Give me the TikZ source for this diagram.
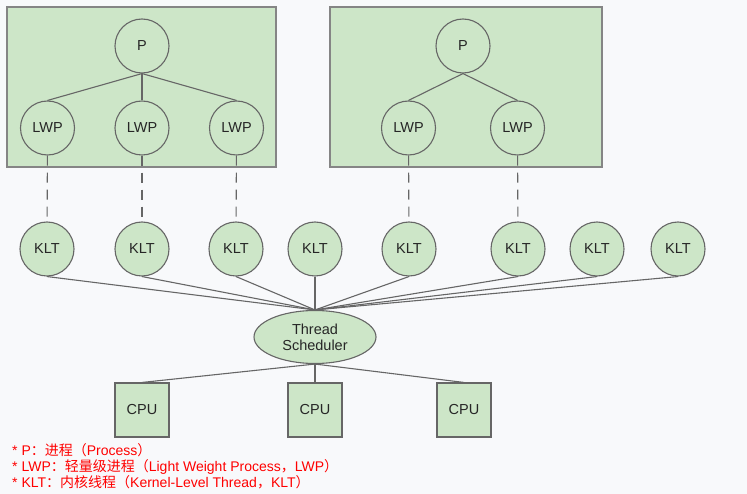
\documentclass[tikz,border=0pt]{standalone}
\usepackage{fontspec}
\setmainfont{Liberation Sans}
\newfontfamily\cjk{Noto Sans CJK SC}
\usetikzlibrary{shapes.geometric}
\definecolor{boxgreen}{HTML}{CDE6C8}
\definecolor{linegray}{HTML}{666666}
\definecolor{bggray}{HTML}{F8F9FB}
\newcommand{\zh}[1]{{\cjk #1}}

\begin{document}
\begin{tikzpicture}[x=1pt,y=-1pt,
	every node/.style={font=\fontsize{14.5}{16}\selectfont,text=black!85},
	proc/.style={circle,draw=linegray,fill=boxgreen,minimum size=54pt,inner sep=0pt,line width=1.1pt},
	cpu/.style={rectangle,draw=linegray,fill=boxgreen,minimum size=54pt,inner sep=0pt,line width=1.1pt},
	link/.style={draw=linegray,line width=1.1pt},
	level/.style={level distance=82pt},
	edge from parent/.style={link},
	edge from parent path={(\tikzparentnode.south) -- (\tikzchildnode.north)}]
\useasboundingbox[fill=bggray] (0,0) rectangle (747,494);

% process boxes
\draw[draw=linegray!80,fill=boxgreen,line width=1.1pt] (7,7) rectangle (276,167);
\draw[draw=linegray!80,fill=boxgreen,line width=1.1pt] (330,7) rectangle (602,167);

\node [proc] (p1) at (142,46) {P}
	[sibling distance=94.5pt]
	child {node [proc] (lwp1) {LWP}}
	child {node [proc] (lwp2) {LWP}}
	child {node [proc] (lwp3) {LWP}};
\node [proc] (p2) at (463,46) {P}
	[sibling distance=109pt]
	child {node [proc] (lwp4) {LWP}}
	child {node [proc] (lwp5) {LWP}};

% kernel threads
\foreach \x [count=\i] in {47,142,236,315,409,518,597,678}
	\node [proc] (klt\i) at (\x,249) {KLT};

\foreach \a/\b in {lwp1/klt1,lwp2/klt2,lwp3/klt3,lwp4/klt5,lwp5/klt6}
	\draw [link,dash pattern=on 10pt off 7pt] (\a) -- (\b);

\node [ellipse,draw=linegray,fill=boxgreen,line width=1.1pt,minimum width=122pt,minimum height=53pt,inner sep=0pt,align=center] (sched) at (315,337) {Thread\\Scheduler};

\foreach \i in {1,...,8}
	\draw [link] (klt\i.south) -- (sched.north);

\foreach \x [count=\i] in {142,315,464} {
	\node [cpu] (cpu\i) at (\x,410) {CPU};
	\draw [link] (sched.south) -- (cpu\i.north);
}

% legend
\node [anchor=north west,align=left,inner sep=0pt,text=red,font=\fontsize{14}{16}\selectfont] (legend) at (12,443)
	{* P\zh{：进程（}Process\zh{）}\\
	* LWP\zh{：轻量级进程（}Light Weight Process\zh{，}LWP\zh{）}\\
	* KLT\zh{：内核线程（}Kernel-Level Thread\zh{，}KLT\zh{）}};
\end{tikzpicture}
\end{document}
